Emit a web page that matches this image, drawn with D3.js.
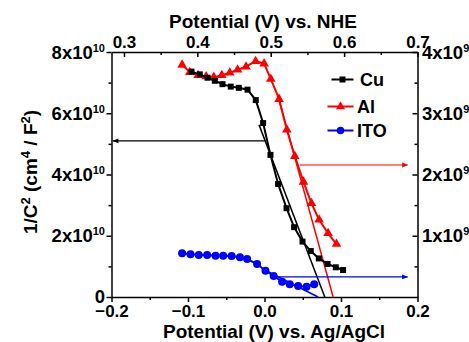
<!DOCTYPE html>
<html>
<head>
<meta charset="utf-8">
<script src="https://cdn.jsdelivr.net/npm/d3@7"></script>
<style>
  body { margin: 0; background: #fff; }
  svg { display: block; font-family: "Liberation Sans", Arial, sans-serif; font-weight: bold; }
  .axis text { font-size: 17px; font-weight: bold; fill: #000; }
  .axis path, .axis line { stroke: #000; stroke-width: 1.5; }
</style>
</head>
<body>
<svg id="chart" width="469" height="342"></svg>
<script>
// Potential vs. Ag/AgCl (V)
const cuPotential = [-0.0954, -0.0846, -0.0745, -0.065, -0.0549, -0.0441, -0.0336, -0.0222, -0.0114, -0.0018,
  0.0078, 0.0178, 0.0288, 0.0387, 0.0497, 0.0605, 0.071, 0.0824, 0.0932, 0.1027];
const cuInvC2 = [7.36e10, 7.27e10, 7.16e10, 7.06e10, 6.95e10, 6.87e10, 6.83e10, 6.77e10, 6.43e10, 5.68e10,
  4.64e10, 3.69e10, 2.9e10, 2.28e10, 1.81e10, 1.5e10, 1.26e10, 1.08e10, 0.97e10, 0.88e10];

const alPotential = [-0.1077, -0.0976, -0.0868, -0.0763, -0.0663, -0.0558, -0.0454, -0.0352, -0.0241, -0.0116,
  -0.0005, 0.0082, 0.0191, 0.0292, 0.0396, 0.051, 0.0614, 0.0714, 0.0831, 0.0941];
const alInvC2 = [3.79e9, 3.67e9, 3.62e9, 3.6e9, 3.59e9, 3.62e9, 3.66e9, 3.71e9, 3.76e9, 3.85e9,
  3.81e9, 3.56e9, 3.23e9, 2.73e9, 2.3e9, 1.88e9, 1.53e9, 1.26e9, 1.04e9, 0.865e9];

const itoPotential = [-0.1077, -0.0967, -0.0859, -0.075, -0.064, -0.054, -0.043, -0.032, -0.0227, -0.0097,
  0.0013, 0.012, 0.023, 0.033, 0.044, 0.055, 0.065];
const itoInvC2 = [0.713e9, 0.697e9, 0.686e9, 0.686e9, 0.674e9, 0.674e9, 0.669e9, 0.648e9, 0.62e9, 0.539e9,
  0.429e9, 0.343e9, 0.25e9, 0.207e9, 0.18e9, 0.168e9, 0.207e9];

// Mott-Schottky fit lines [start, end] in data units
const cuFitV = [-0.0071, 0.0788];
const cuFitC = [5.62e10, 0];
const alFitV = [0.0191, 0.0897];
const alFitC = [3.21e9, 0];
const itoFitV = [-0.0035, 0.070];
const itoFitC = [0.465e9, 0];

// arrows pointing to the axis each series is read on
const cuArrowV = [0.0004, -0.198];
const cuArrowC = [5.1e10, 5.1e10];
const alArrowV = [0.046, 0.187];
const alArrowC = [2.155e9, 2.155e9];
const itoArrowV = [0.018, 0.187];
const itoArrowC = [0.327e9, 0.327e9];

const bottomTicks = [-0.2, -0.1, 0.0, 0.1, 0.2];
const bottomMinor = [-0.15, -0.05, 0.05, 0.15];
const topTicks = [0.3, 0.4, 0.5, 0.6, 0.7];
const topMinor = [0.35, 0.45, 0.55, 0.65];
const leftTicks = [0, 2e10, 4e10, 6e10, 8e10];
const leftMinor = [1e10, 3e10, 5e10, 7e10];
const rightTicks = [1e9, 2e9, 3e9, 4e9];
const rightMinor = [0.5e9, 1.5e9, 2.5e9, 3.5e9];

const legendNames = ["Cu", "Al", "ITO"];

const svg = d3.select("#chart");
const L = 111.5, R = 417.5, T = 52, B = 297;

const x = d3.scaleLinear().domain([-0.2, 0.2]).range([L, R]);
const xTop = d3.scaleLinear().domain([0.283, 0.7]).range([L, R]);
const yL = d3.scaleLinear().domain([0, 8e10]).range([B, T]);
const yR = d3.scaleLinear().domain([0, 4e9]).range([B, T]);

// arrow heads
const defs = svg.append("defs");
[["black", "#000"], ["red", "#f00"], ["blue", "#00f"]].forEach(([id, c]) => {
  defs.append("marker").attr("id", `head-${id}`)
    .attr("viewBox", "0 0 10 10").attr("refX", 9).attr("refY", 5)
    .attr("markerWidth", 9).attr("markerHeight", 6).attr("orient", "auto")
    .attr("markerUnits", "userSpaceOnUse")
    .append("path").attr("d", "M0,1 L10,5 L0,9 Z").attr("fill", c);
});

// axes
const addAxis = (axis, transform, cls) =>
  svg.append("g").attr("class", `axis ${cls}`).attr("transform", transform).call(axis);

addAxis(d3.axisBottom(x).tickValues(bottomTicks).tickSize(5).tickSizeOuter(0).tickPadding(3)
  .tickFormat(d3.format(".1f")), `translate(0,${B})`, "bottom");
addAxis(d3.axisBottom(x).tickValues(bottomMinor).tickSize(3).tickFormat(""), `translate(0,${B})`, "minor");
addAxis(d3.axisTop(xTop).tickValues(topTicks).tickSize(-5).tickSizeOuter(0).tickPadding(2)
  .tickFormat(d3.format(".1f")), `translate(0,${T})`, "top");
addAxis(d3.axisTop(xTop).tickValues(topMinor).tickSize(-3).tickFormat(""), `translate(0,${T})`, "minor");
addAxis(d3.axisLeft(yL).tickValues(leftTicks).tickSize(5).tickSizeOuter(0).tickFormat(""),
  `translate(${L},0)`, "left");
addAxis(d3.axisLeft(yL).tickValues(leftMinor).tickSize(3).tickFormat(""), `translate(${L},0)`, "minor");
addAxis(d3.axisRight(yR).tickValues(rightTicks).tickSize(-5).tickSizeOuter(0).tickFormat(""),
  `translate(${R},0)`, "right");
addAxis(d3.axisRight(yR).tickValues(rightMinor).tickSize(-3).tickFormat(""), `translate(${R},0)`, "minor");
svg.selectAll(".top .tick text").attr("dy", "-0.1em");
svg.selectAll(".axis.minor path").remove();

// sci-notation labels
const sciLabel = (sel, mant, exp) => {
  sel.append("tspan").text(`${mant}x10`);
  sel.append("tspan").attr("dy", -7).attr("font-size", 11).text(exp);
};
leftTicks.forEach((v) => {
  const t = svg.append("text").attr("x", 105).attr("y", yL(v) + (v === 0 ? 5.5 : 6.5))
    .attr("text-anchor", "end").attr("font-size", 18.5);
  if (v === 0) t.text("0");
  else sciLabel(t, v / 1e10, "10");
});
rightTicks.forEach((v) => {
  const t = svg.append("text").attr("x", 422).attr("y", yR(v) + 6.5).attr("font-size", 18.5);
  sciLabel(t, v / 1e9, "9");
});

// axis titles
svg.append("text").attr("x", 263).attr("y", 28).attr("text-anchor", "middle")
  .attr("font-size", 19).text("Potential (V) vs. NHE");
svg.append("text").attr("x", 274).attr("y", 337.5).attr("text-anchor", "middle")
  .attr("font-size", 19).text("Potential (V) vs. Ag/AgCl");
const yt = svg.append("text").attr("transform", "translate(37,172) rotate(-90)")
  .attr("text-anchor", "middle").attr("font-size", 19);
[["1/C", 0], ["2", 1], [" (cm", 0], ["4", 1], [" / F", 0], ["2", 1], [")", 0]].forEach(([s, sup], i, arr) => {
  const prevSup = i > 0 && arr[i - 1][1];
  yt.append("tspan").attr("dy", sup ? -7 : prevSup ? 7 : 0)
    .attr("font-size", sup ? 13 : 19).text(s);
});

// fit lines
const seg = (vs, cs, ys, color, w) =>
  svg.append("line").attr("x1", x(vs[0])).attr("y1", ys(cs[0])).attr("x2", x(vs[1])).attr("y2", ys(cs[1]))
    .attr("stroke", color).attr("stroke-width", w);
seg(cuFitV, cuFitC, yL, "#000", 1.5);
seg(alFitV, alFitC, yR, "#f00", 1.5);
seg(itoFitV, itoFitC, yR, "#00f", 1.5);

// series
const series = [
  { name: "ITO", vs: itoPotential, cs: itoInvC2, y: yR, color: "#00f", sym: d3.symbolCircle, size: 50 },
  { name: "Al", vs: alPotential, cs: alInvC2, y: yR, color: "#f00", sym: d3.symbolTriangle, size: 40 },
  { name: "Cu", vs: cuPotential, cs: cuInvC2, y: yL, color: "#000", sym: d3.symbolSquare, size: 36 },
];
series.forEach((s) => {
  const pts = s.vs.map((v, i) => [x(v), s.y(s.cs[i])]);
  svg.append("path").attr("d", d3.line()(pts)).attr("fill", "none")
    .attr("stroke", s.color).attr("stroke-width", 2);
  svg.append("g").selectAll("path").data(pts).join("path")
    .attr("transform", (d) => `translate(${d[0]},${d[1]})`)
    .attr("d", d3.symbol(s.sym, s.size)).attr("fill", s.color);
});

// arrows
const arrow = (vs, cs, ys, color, id) =>
  seg(vs, cs, ys, color, 1.2).attr("marker-end", `url(#head-${id})`);
arrow(cuArrowV, cuArrowC, yL, "#000", "black");
arrow(alArrowV, alArrowC, yR, "#f00", "red");
arrow(itoArrowV, itoArrowC, yR, "#00f", "blue");

// legend
const legendY = [79.5, 106.5, 130.5];
const legendSym = [d3.symbolSquare, d3.symbolTriangle, d3.symbolCircle];
const legendColor = ["#000", "#f00", "#00f"];
const legendX0 = [331.5, 327.5, 327.5];
legendNames.forEach((n, i) => {
  const g = svg.append("g");
  g.append("line").attr("x1", legendX0[i]).attr("x2", 353.5).attr("y1", legendY[i]).attr("y2", legendY[i])
    .attr("stroke", legendColor[i]).attr("stroke-width", 2);
  g.append("path").attr("transform", `translate(${(legendX0[i] + 353.5) / 2},${legendY[i]})`)
    .attr("d", d3.symbol(legendSym[i], i === 2 ? 45 : 36)).attr("fill", legendColor[i]);
  g.append("text").attr("x", i === 0 ? 360 : 357).attr("y", legendY[i] + 6.5)
    .attr("font-size", 18).text(n);
});
</script>
</body>
</html>
